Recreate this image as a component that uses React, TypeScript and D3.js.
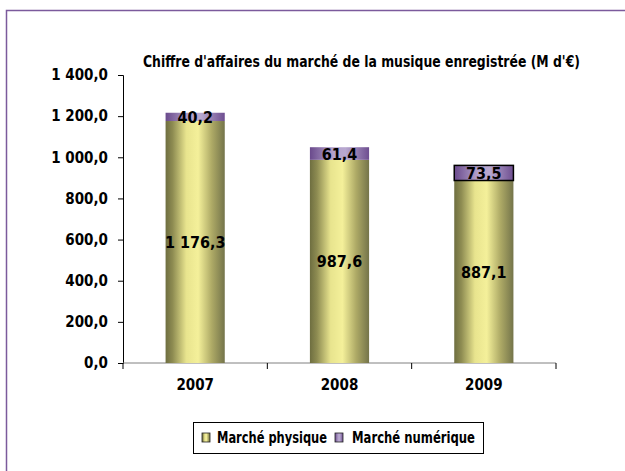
import React, { useEffect, useRef } from "react";
import * as d3 from "d3";

const years = ["2007", "2008", "2009"];
const physique = [1176.3, 987.6, 887.1];
const numerique = [40.2, 61.4, 73.5];
const yTicks = [0, 200, 400, 600, 800, 1000, 1200, 1400];
const seriesNames = ["Marché physique", "Marché numérique"];
const title = "Chiffre d'affaires du marché de la musique enregistrée (M d'€)";

const FONT = "'DejaVu Sans Condensed', 'Liberation Sans Narrow', sans-serif";

// french number format: "1 176,3"
const fmt = (v: number) => {
  const [i, d] = v.toFixed(1).split(".");
  return i.replace(/\B(?=(\d{3})+(?!\d))/g, " ") + "," + d;
};

export default function App() {
  const ref = useRef<SVGSVGElement>(null);

  useEffect(() => {
    const svg = d3.select(ref.current);
    svg.selectAll("*").remove();

    const width = 625;
    const height = 471;
    const plot = { left: 123, right: 556, top: 75, bottom: 363 };

    const defs = svg.append("defs");
    const grad = (id: string, stops: [number, string][]) => {
      const g = defs.append("linearGradient").attr("id", id)
        .attr("x1", "0").attr("x2", "1").attr("y1", "0").attr("y2", "0");
      stops.forEach(([o, c]) => g.append("stop").attr("offset", o).attr("stop-color", c));
    };
    grad("gPhys", [[0, "#6e6e40"], [0.12, "#8e8c52"], [0.35, "#e8e48e"], [0.55, "#f4f09a"], [0.78, "#aeaa66"], [1, "#74744a"]]);
    grad("gNum", [[0, "#6a4a8c"], [0.4, "#b4a2cc"], [0.6, "#b8a8d0"], [1, "#6e4e90"]]);

    // outer frame
    svg.append("rect")
      .attr("x", 6.5).attr("y", 10.5).attr("width", width).attr("height", height)
      .attr("fill", "#fff").attr("stroke", "#7b5a9c").attr("stroke-width", 1.5);

    const x = d3.scaleBand().domain(years).range([plot.left, plot.right]).paddingInner(0.59).paddingOuter(0.295);
    const y = d3.scaleLinear().domain([0, 1400]).range([plot.bottom, plot.top]);

    // title
    svg.append("text")
      .attr("x", 143).attr("y", 67)
      .attr("textLength", 437).attr("lengthAdjust", "spacingAndGlyphs")
      .style("font-family", FONT).style("font-weight", "bold").style("font-size", "15px")
      .text(title);

    // y axis
    const yAxis = svg.append("g")
      .attr("transform", `translate(${plot.left},0)`)
      .call(d3.axisLeft(y).tickValues(yTicks).tickSize(5).tickPadding(10).tickFormat(d => fmt(+d)));
    yAxis.select(".domain").attr("stroke", "#000");
    yAxis.selectAll("text").style("font-family", FONT).style("font-weight", "bold").style("font-size", "15px").attr("fill", "#000");

    // x axis
    const xAxisScale = d3.scalePoint().domain(d3.range(years.length + 1).map(String)).range([plot.left, plot.right]);
    const xg = svg.append("g").attr("transform", `translate(0,${plot.bottom})`);
    xg.append("line").attr("x1", plot.left).attr("x2", plot.right).attr("stroke", "#808080").attr("stroke-width", 1);
    xg.selectAll("line.tick")
      .data(xAxisScale.domain())
      .join("line")
      .attr("class", "tick")
      .attr("x1", d => xAxisScale(d)!).attr("x2", d => xAxisScale(d)!)
      .attr("y1", 0).attr("y2", 6)
      .attr("stroke", "#000");
    xg.selectAll("text")
      .data(years)
      .join("text")
      .attr("x", d => x(d)! + x.bandwidth() / 2)
      .attr("y", 27)
      .attr("text-anchor", "middle")
      .style("font-family", FONT).style("font-weight", "bold").style("font-size", "15px")
      .text(d => d);

    // bars
    const bars = svg.append("g");
    bars.selectAll("rect.phys")
      .data(years)
      .join("rect")
      .attr("class", "phys")
      .attr("x", d => x(d)!)
      .attr("width", x.bandwidth())
      .attr("y", (d, i) => y(physique[i]))
      .attr("height", (d, i) => y(0) - y(physique[i]))
      .attr("fill", "url(#gPhys)");
    bars.selectAll("rect.num")
      .data(years)
      .join("rect")
      .attr("class", "num")
      .attr("x", d => x(d)!)
      .attr("width", x.bandwidth())
      .attr("y", (d, i) => y(physique[i] + numerique[i]))
      .attr("height", (d, i) => y(physique[i]) - y(physique[i] + numerique[i]))
      .attr("fill", "url(#gNum)")
      .attr("stroke", (d, i) => (i === 2 ? "#000" : "none"))
      .attr("stroke-width", 1.5);

    // value labels
    const lbl = svg.append("g")
      .style("font-family", FONT).style("font-weight", "bold").style("font-size", "16px")
      .attr("text-anchor", "middle");
    lbl.selectAll("text.p")
      .data(years)
      .join("text")
      .attr("class", "p")
      .attr("x", d => x(d)! + x.bandwidth() / 2)
      .attr("y", (d, i) => (y(0) + y(physique[i])) / 2 + 6)
      .text((d, i) => fmt(physique[i]));
    lbl.selectAll("text.n")
      .data(years)
      .join("text")
      .attr("class", "n")
      .attr("x", d => x(d)! + x.bandwidth() / 2)
      .attr("y", (d, i) => (y(physique[i]) + y(physique[i] + numerique[i])) / 2 + 6)
      .text((d, i) => fmt(numerique[i]));

    // legend
    const leg = svg.append("g");
    leg.append("rect")
      .attr("x", 193.5).attr("y", 422.5).attr("width", 290).attr("height", 31)
      .attr("fill", "#fff").attr("stroke", "#000").attr("stroke-width", 1);
    const items = [
      { name: seriesNames[0], fill: "url(#gPhys)", sx: 202, tx: 217, w: 110 },
      { name: seriesNames[1], fill: "url(#gNum)", sx: 335, tx: 352, w: 123 },
    ];
    items.forEach(it => {
      leg.append("rect")
        .attr("x", it.sx).attr("y", 433).attr("width", 8).attr("height", 9)
        .attr("fill", it.fill).attr("stroke", "#222").attr("stroke-width", 0.8);
      leg.append("text")
        .attr("x", it.tx).attr("y", 443)
        .attr("textLength", it.w).attr("lengthAdjust", "spacingAndGlyphs")
        .style("font-family", FONT).style("font-weight", "bold").style("font-size", "16px")
        .text(it.name);
    });
  }, []);

  return (
    <svg
      ref={ref}
      width={625}
      height={471}
      style={{ position: "absolute", left: 0, top: 0, background: "#fff" }}
    />
  );
}
